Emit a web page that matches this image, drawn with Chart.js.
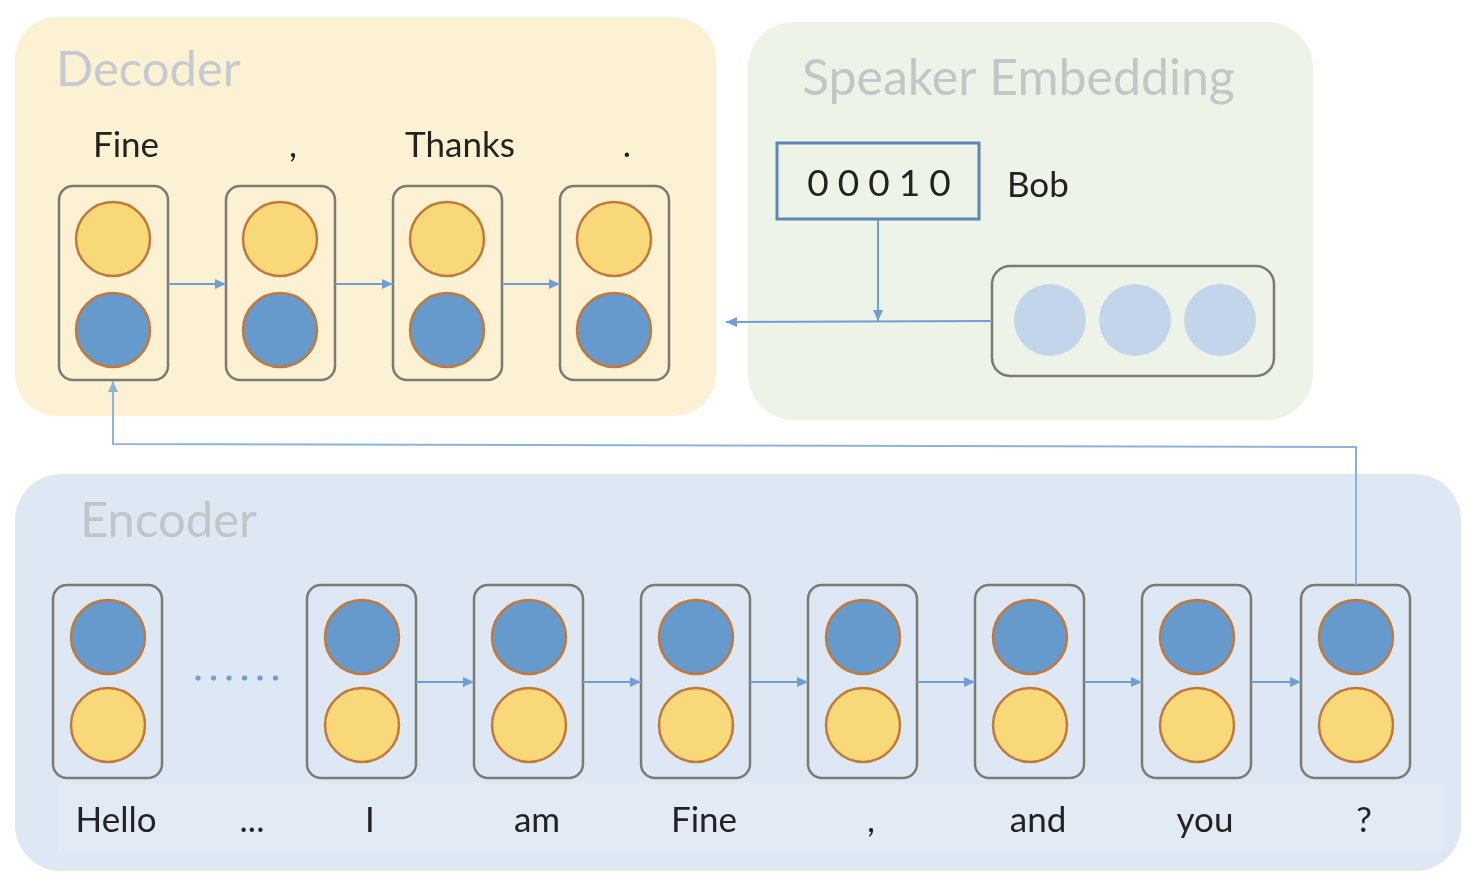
<!DOCTYPE html>
<html lang="en">
<head>
  <meta charset="UTF-8">
  <title>Speaker-aware Encoder / Decoder</title>
  <script src="https://cdn.jsdelivr.net/npm/chart.js@4.4.1/dist/chart.umd.min.js"></script>
  <style>
    body { margin: 0; background: #fff; }
    .chart-container { width: 1476px; height: 889px; }
  </style>
</head>
<body>
  <div class="chart-container">
    <canvas id="diagram"></canvas>
  </div>

  <script>
    // tokens and labels
    const decoderTokens = ['Fine', ',', 'Thanks', '.'];
    const encoderTokens = ['Hello', '...', 'I', 'am', 'Fine', ',', 'and', 'you', '?'];
    const speakerCode = ['0', '0', '0', '1', '0'];
    const speakerName = 'Bob';
    const embeddingSize = 3;
    const panelTitles = ['Decoder', 'Speaker Embedding', 'Encoder'];

    // layout (pixel units of the 1476 x 889 frame)
    const W = 1476, H = 889;
    const decX = i => 113 + i * 167;
    const encSlots = [108, 244, 362, 529, 696, 863, 1030, 1197, 1356];
    const embX = i => 1050 + i * 85;

    const YELLOW = '#F8D878', BLUE = '#6699CC', RIM = '#C27A3C';
    const LINE = '#6E9ED6';
    const FONT = 'Lato, "Open Sans", sans-serif';

    const decTop = decoderTokens.map((t, i) => ({ x: decX(i), y: 239, r: 37 }));
    const decBot = decoderTokens.map((t, i) => ({ x: decX(i), y: 330, r: 37 }));
    const encCells = encoderTokens.map((t, i) => ({ t, i, x: encSlots[i] })).filter(c => c.t !== '...');
    const encTop = encCells.map(c => ({ x: c.x, y: 637, r: 37 }));
    const encBot = encCells.map(c => ({ x: c.x, y: 725, r: 37 }));
    const emb = Array.from({ length: embeddingSize }, (_, i) => ({ x: embX(i), y: 320, r: 36 }));

    function roundRect(ctx, x, y, w, h, r) {
      ctx.beginPath();
      ctx.moveTo(x + r, y);
      ctx.arcTo(x + w, y, x + w, y + h, r);
      ctx.arcTo(x + w, y + h, x, y + h, r);
      ctx.arcTo(x, y + h, x, y, r);
      ctx.arcTo(x, y, x + w, y, r);
      ctx.closePath();
    }

    function arrow(ctx, pts, color, width) {
      ctx.save();
      ctx.strokeStyle = color;
      ctx.fillStyle = color;
      ctx.lineWidth = width || 2;
      ctx.beginPath();
      ctx.moveTo(pts[0][0], pts[0][1]);
      pts.slice(1).forEach(p => ctx.lineTo(p[0], p[1]));
      ctx.stroke();
      const [x1, y1] = pts[pts.length - 2];
      const [x2, y2] = pts[pts.length - 1];
      const a = Math.atan2(y2 - y1, x2 - x1);
      ctx.beginPath();
      ctx.moveTo(x2, y2);
      ctx.lineTo(x2 - 11 * Math.cos(a) + 5 * Math.sin(a), y2 - 11 * Math.sin(a) - 5 * Math.cos(a));
      ctx.lineTo(x2 - 11 * Math.cos(a) - 5 * Math.sin(a), y2 - 11 * Math.sin(a) + 5 * Math.cos(a));
      ctx.closePath();
      ctx.fill();
      ctx.restore();
    }

    const diagramPlugin = {
      id: 'diagram',
      beforeDatasetsDraw(chart) {
        const ctx = chart.ctx;
        const sx = chart.scales.x, sy = chart.scales.y;
        const X = v => sx.getPixelForValue(v), Y = v => sy.getPixelForValue(v);
        const box = (x0, y0, x1, y1, r) => roundRect(ctx, X(x0), Y(y0), X(x1) - X(x0), Y(y1) - Y(y0), r);

        ctx.save();
        // panels
        box(15, 17, 716, 416, 42); ctx.fillStyle = '#FCF1D2'; ctx.fill();
        box(748, 22, 1313, 420, 46); ctx.fillStyle = '#EEF3E7'; ctx.fill();
        box(15, 474, 1461, 871, 46); ctx.fillStyle = '#DEE8F4'; ctx.fill();
        ctx.fillStyle = '#E2EAF5';
        ctx.fillRect(X(58), Y(783), X(1443) - X(58), Y(852) - Y(783));

        // titles
        ctx.textAlign = 'left';
        ctx.textBaseline = 'alphabetic';
        ctx.font = '49px ' + FONT;
        ctx.fillStyle = '#C5CAD1';
        ctx.fillText(panelTitles[0], X(56), Y(86));
        ctx.font = '50px ' + FONT;
        ctx.fillStyle = '#C3C6C6';
        ctx.fillText(panelTitles[1], X(802), Y(95));
        ctx.font = '49px ' + FONT;
        ctx.fillStyle = '#C2C4C7';
        ctx.fillText(panelTitles[2], X(80), Y(537));

        // cell boxes
        ctx.strokeStyle = '#7B7B74';
        ctx.lineWidth = 2.5;
        decoderTokens.forEach((t, i) => { box(decX(i) - 54, 186, decX(i) + 55, 380, 14); ctx.stroke(); });
        encCells.forEach(c => { box(c.x - 55, 585, c.x + 54, 778, 14); ctx.stroke(); });
        box(992, 266, 1274, 376, 18); ctx.stroke();

        // speaker one-hot code box
        ctx.strokeStyle = '#5D86B6';
        ctx.lineWidth = 3;
        ctx.strokeRect(X(777), Y(143), X(979) - X(777), Y(219) - Y(143));

        // recurrent arrows (none across the elided "..." stretch)
        decoderTokens.slice(1).forEach((t, i) => arrow(ctx, [[X(decX(i) + 55), Y(284)], [X(decX(i + 1) - 54), Y(284)]], LINE));
        encCells.slice(1).forEach((c, k) => {
          const prev = encCells[k];
          if (c.i - prev.i === 1) arrow(ctx, [[X(prev.x + 54), Y(682)], [X(c.x - 55), Y(682)]], LINE);
        });

        // dotted gap after Hello
        ctx.fillStyle = LINE;
        for (let k = 0; k < 6; k++) {
          ctx.beginPath();
          ctx.arc(X(198 + k * 15.5), Y(678), 2.6, 0, Math.PI * 2);
          ctx.fill();
        }

        // speaker embedding into decoder
        arrow(ctx, [[X(878), Y(220)], [X(878), Y(321)]], LINE);
        arrow(ctx, [[X(992), Y(321)], [X(726), Y(322)]], LINE);

        // encoder state to first decoder cell
        const last = encCells[encCells.length - 1].x;
        arrow(ctx, [[X(last), Y(585)], [X(last), Y(447)], [X(decX(0)), Y(444)], [X(decX(0)), Y(381)]], '#8DB2DE');

        // words
        ctx.fillStyle = '#222';
        ctx.textAlign = 'center';
        ctx.font = '35px ' + FONT;
        decoderTokens.forEach((t, i) => ctx.fillText(t, X(decX(i) + 13), Y(157)));
        encoderTokens.forEach((t, i) => ctx.fillText(t, X(encSlots[i] + 8), Y(832)));
        ctx.font = '37px ' + FONT;
        speakerCode.forEach((d, i) => ctx.fillText(d, X(818 + i * 30.5), Y(196)));
        ctx.textAlign = 'left';
        ctx.font = '35px ' + FONT;
        ctx.fillText(speakerName, X(1007), Y(197));
        ctx.restore();
      }
    };

    const bubble = (data, fill, rim) => ({
      type: 'bubble',
      data,
      backgroundColor: fill,
      borderColor: rim,
      borderWidth: rim ? 2.5 : 0,
      hoverRadius: 0
    });

    new Chart(document.getElementById('diagram').getContext('2d'), {
      type: 'bubble',
      data: {
        datasets: [
          bubble(decTop, YELLOW, RIM),
          bubble(decBot, BLUE, RIM),
          bubble(encTop, BLUE, RIM),
          bubble(encBot, YELLOW, RIM),
          bubble(emb, '#C2D5EB', null)
        ]
      },
      options: {
        responsive: true,
        maintainAspectRatio: false,
        animation: false,
        events: [],
        layout: { padding: 0, autoPadding: false },
        plugins: { legend: { display: false }, tooltip: { enabled: false } },
        scales: {
          x: { type: 'linear', min: 0, max: W, display: false },
          y: { type: 'linear', min: 0, max: H, reverse: true, display: false }
        }
      },
      plugins: [diagramPlugin]
    });
  </script>
</body>
</html>
